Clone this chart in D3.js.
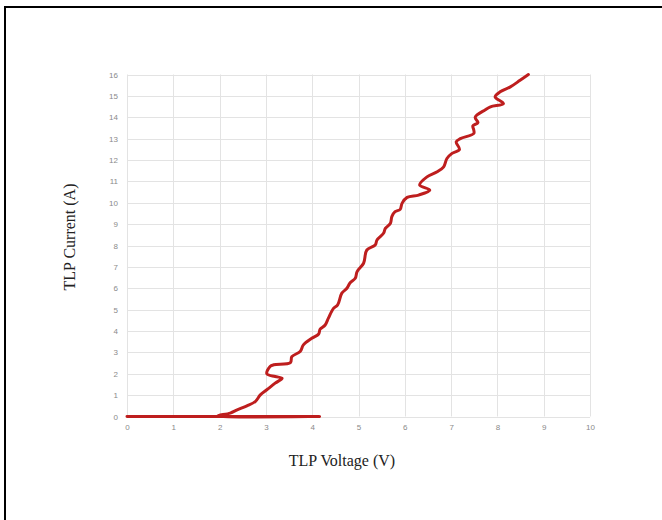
<!DOCTYPE html>
<html>
<head>
<meta charset="utf-8">
<script src="https://cdn.jsdelivr.net/npm/d3@7"></script>
<style>
  html, body { margin: 0; padding: 0; background: #fff; }
  svg { display: block; }
</style>
</head>
<body>
<svg id="chart" width="662" height="520"></svg>
<script>
// ---- data ----
const voltage = [0, 4.16, 1.96, 2.23, 2.38, 2.59, 2.77, 2.88, 3.02, 3.20, 3.35, 3.20, 3.02, 3.09, 3.17,
  3.53, 3.56, 3.74, 3.81, 3.99, 4.14, 4.17, 4.28, 4.35, 4.46, 4.55, 4.64, 4.75, 4.82, 4.93, 4.97,
  5.11, 5.18, 5.36, 5.40, 5.54, 5.58, 5.69, 5.72, 5.79, 5.90, 5.94, 6.05, 6.30, 6.54, 6.32, 6.48,
  6.70, 6.84, 6.91, 7.02, 7.18, 7.11, 7.20, 7.49, 7.49, 7.47, 7.58, 7.52, 7.74, 7.85, 8.13, 7.95,
  8.06, 8.28, 8.49, 8.67];
const current = [0, 0, 0.03, 0.16, 0.31, 0.50, 0.70, 1.01, 1.25, 1.56, 1.79, 1.87, 2.00, 2.34, 2.42,
  2.52, 2.80, 3.04, 3.35, 3.66, 3.86, 4.08, 4.28, 4.60, 5.06, 5.22, 5.77, 6.00, 6.26, 6.47, 6.78,
  7.17, 7.79, 8.02, 8.26, 8.57, 8.80, 9.04, 9.35, 9.58, 9.69, 9.97, 10.25, 10.36, 10.59, 10.83, 11.21,
  11.45, 11.68, 12.07, 12.31, 12.49, 12.85, 13.00, 13.24, 13.40, 13.60, 13.75, 14.00, 14.35, 14.49, 14.64, 14.95,
  15.19, 15.42, 15.73, 16.00];
const xTicks = [0, 1, 2, 3, 4, 5, 6, 7, 8, 9, 10];
const yTicks = [0, 1, 2, 3, 4, 5, 6, 7, 8, 9, 10, 11, 12, 13, 14, 15, 16];
const xTitle = "TLP Voltage (V)";
const yTitle = "TLP Current (A)";

// ---- layout ----
const svg = d3.select("#chart");
const plot = { left: 127, right: 590, top: 74.5, bottom: 416.5 };
const x = d3.scaleLinear().domain([0, 10]).range([plot.left, plot.right]);
const y = d3.scaleLinear().domain([0, 16]).range([plot.bottom, plot.top]);

// frame
svg.append("rect")
  .attr("x", 5).attr("y", 7).attr("width", 700).attr("height", 600)
  .attr("fill", "none").attr("stroke", "#000").attr("stroke-width", 2);

// gridlines
const grid = svg.append("g").attr("stroke", "#e3e3e3").attr("stroke-width", 1);
grid.selectAll("line.v").data(xTicks).join("line")
  .attr("x1", d => Math.round(x(d)) + 0.5).attr("x2", d => Math.round(x(d)) + 0.5)
  .attr("y1", plot.top).attr("y2", plot.bottom);
grid.selectAll("line.h").data(yTicks).join("line")
  .attr("y1", d => Math.round(y(d)) + 0.5).attr("y2", d => Math.round(y(d)) + 0.5)
  .attr("x1", plot.left).attr("x2", plot.right);

// axes (labels only, Excel-like)
const xAxis = d3.axisBottom(x).tickValues(xTicks).tickSize(0).tickPadding(8).tickFormat(d3.format("d"));
const yAxis = d3.axisLeft(y).tickValues(yTicks).tickSize(0).tickPadding(9).tickFormat(d3.format("d"));
const gx = svg.append("g").attr("transform", `translate(0,${plot.bottom})`).call(xAxis);
const gy = svg.append("g").attr("transform", `translate(${plot.left},0)`).call(yAxis);
[gx, gy].forEach(g => {
  g.select(".domain").remove();
  g.selectAll("text").attr("fill", "#8a8a8a")
    .style("font-family", "'Liberation Sans', Arial, sans-serif").style("font-size", "8px");
});

// curve
const pts = voltage.map((v, i) => [v, current[i]]);
const line = d3.line().x(d => x(d[0])).y(d => y(d[1])).curve(d3.curveCatmullRom.alpha(0.5));
svg.append("path").datum(pts)
  .attr("d", line)
  .attr("fill", "none").attr("stroke", "#be1e1e").attr("stroke-width", 3)
  .attr("stroke-linejoin", "round").attr("stroke-linecap", "round");

// titles
svg.append("text").attr("x", 342).attr("y", 466).attr("text-anchor", "middle")
  .style("font-family", "'Liberation Serif', 'Times New Roman', serif").style("font-size", "16px")
  .attr("fill", "#222").text(xTitle);
svg.append("text").attr("transform", "translate(75,237) rotate(-90)").attr("text-anchor", "middle")
  .style("font-family", "'Liberation Serif', 'Times New Roman', serif").style("font-size", "16px")
  .attr("fill", "#222").text(yTitle);
</script>
</body>
</html>
